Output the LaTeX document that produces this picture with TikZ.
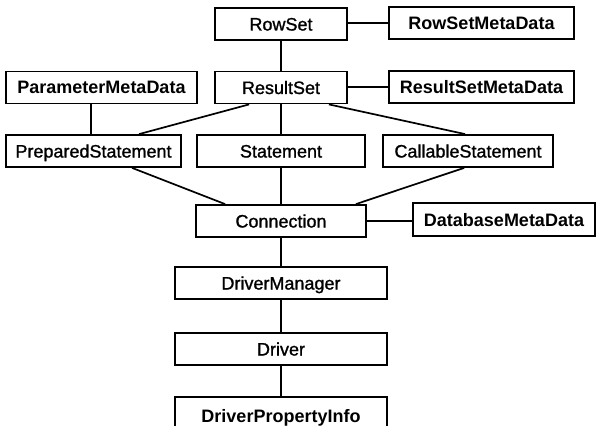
\documentclass[tikz,border=0pt]{standalone}
\usepackage{fontspec}
\setmainfont{Liberation Sans}
\newfontfamily\medfont[FakeBold=1.2]{Liberation Sans}
\usetikzlibrary{calc}
\tikzset{
  box/.style={draw=black, line width=1.8pt, fill=white, rectangle, inner sep=0pt,
    minimum height=32pt, text height=13pt, text depth=0pt,
    font=\medfont\fontsize{18}{20}\selectfont},
  bbox/.style={box, font=\fontsize{18}{20}\selectfont\bfseries},
  link/.style={draw=black, line width=1.7pt}
}
\begin{document}
\begin{tikzpicture}[x=1pt,y=-1pt]
\clip (0,0) rectangle (596,425);
\fill[white] (0,0) rectangle (596,425);
% nodes
\node[box, minimum width=132pt] (RS) at (281,24) {RowSet};
\node[bbox, minimum width=185pt] (RSMD) at (481.5,23) {RowSetMetaData};
\node[bbox, minimum width=191pt] (PMD) at (101.5,87.5) {ParameterMetaData};
\node[box, minimum width=132pt] (RES) at (281,87.5) {ResultSet};
\node[bbox, minimum width=185pt] (RESMD) at (481.5,87) {ResultSetMetaData};
\node[box, minimum width=175pt] (PS) at (93.5,151) {PreparedStatement};
\node[box, minimum width=168pt] (ST) at (281,151) {Statement};
\node[box, minimum width=170pt] (CS) at (468,151) {CallableStatement};
\node[box, minimum width=170pt] (CON) at (281,221) {Connection};
\node[bbox, minimum width=182pt, minimum height=33pt] (DBMD) at (504,219.5) {DatabaseMetaData};
\node[box, minimum width=212pt] (DM) at (281,283) {DriverManager};
\node[box, minimum width=212pt] (DR) at (281,349) {Driver};
\node[bbox, minimum width=212pt, minimum height=38pt] (DPI) at (281,416) {DriverPropertyInfo};
% connectors
\draw[link] (RS.east |- RSMD.west) -- (RSMD.west);
\draw[link] (RS.south) -- (RES.north);
\draw[link] (RES.east |- RESMD.west) -- (RESMD.west);
\draw[link] (PMD.south -| {(91,0)}) -- (PS.north -| {(91,0)});
\draw[link] ($(RES.south west)+(35,0)$) -- ($(PS.north west)+(134,0)$);
\draw[link] (RES.south) -- (ST.north);
\draw[link] ($(RES.south east)+(-19,0)$) -- ($(CS.north west)+(83,0)$);
\draw[link] ($(PS.south west)+(127,0)$) -- ($(CON.north west)+(30,0)$);
\draw[link] (ST.south) -- (CON.north);
\draw[link] ($(CS.south west)+(82,0)$) -- ($(CON.north east)+(-11,0)$);
\draw[link] (CON.east) -- (DBMD.west |- CON.east);
\draw[link] (CON.south) -- (DM.north);
\draw[link] (DM.south) -- (DR.north);
\draw[link] (DR.south) -- (DPI.north);
\end{tikzpicture}
\end{document}
